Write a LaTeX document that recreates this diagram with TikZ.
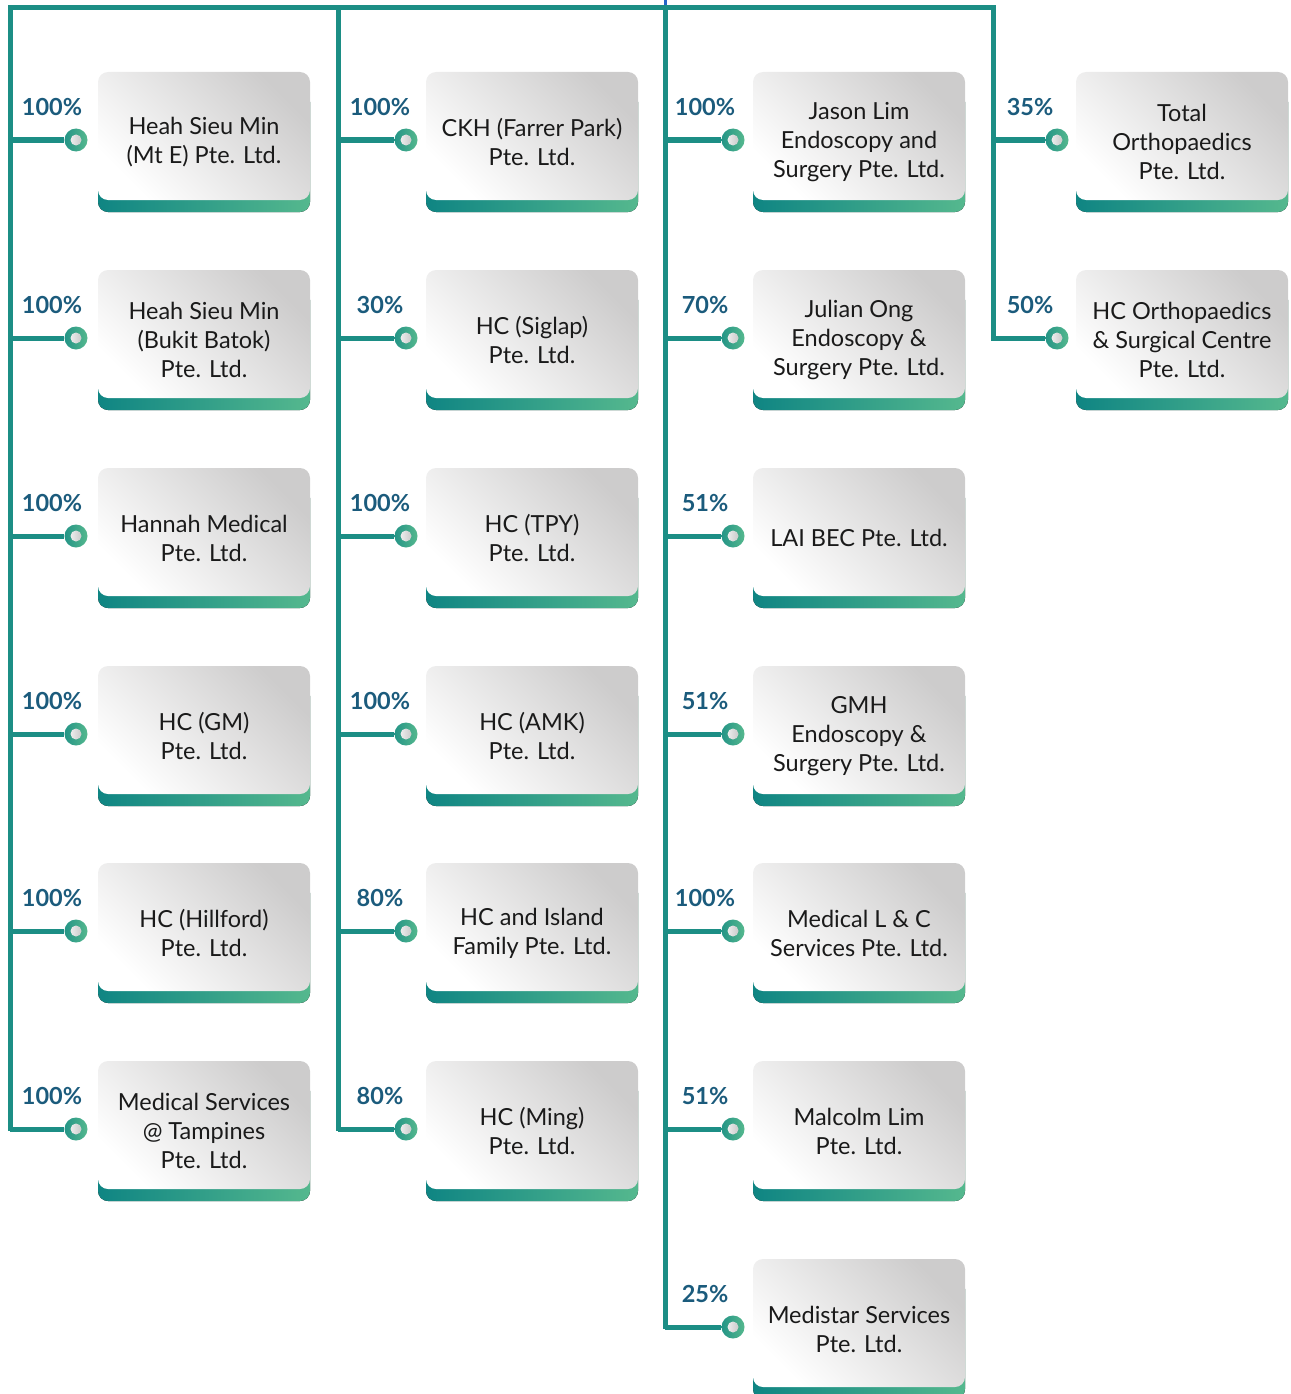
\documentclass[tikz,border=0pt]{standalone}
\usepackage{fontspec}
\setmainfont{Lato}
\usetikzlibrary{calc}
\definecolor{tealA}{HTML}{0F8583}
\definecolor{tealB}{HTML}{55B88E}
\definecolor{trunk}{HTML}{1C8E85}
\definecolor{pctcol}{HTML}{1B5B7C}
\definecolor{boxg}{HTML}{CDCCCC}
\definecolor{txtcol}{HTML}{1A1A1A}
\definecolor{rootblue}{HTML}{2466C8}
\tikzset{
  trunkline/.style={draw=trunk, line width=5pt, line join=miter},
  boxbody/.style={rounded corners=10pt, top color=boxg, bottom color=white, shading angle=-45},
  boxband/.style={rounded corners=10pt, left color=tealA, right color=tealB},
  boxtext/.style={align=center, text=txtcol, font=\fontsize{23.5}{29}\selectfont, inner sep=0pt},
  pctlabel/.style={text=pctcol, font=\bfseries\fontsize{23.5}{26}\selectfont, inner sep=0pt},
  dot/.style={circle, minimum size=23pt, inner sep=0pt, left color=tealA!70!tealB, right color=tealB,
    path picture={\shade[left color=white, right color=black!28] (path picture bounding box.center) circle (5.5pt);}},
}
% #1 name, #2 line x, #3 dot x, #4 label x, #5 box left, #6 box top, #7 percent, #8 text
\newcommand{\ent}[8]{%
  \fill[boxband] (#5,#6+20) rectangle (#5+212,#6+140);
  \shade[boxbody] (#5,#6) rectangle (#5+212,#6+128);
  \node[boxtext] (#1) at (#5+106,#6+70) {#8};
  \node[pctlabel] (#1p) at (#4,#6+35) {#7};
  \node[dot] (#1c) at (#3,#6+68) {};
  \coordinate (#1t) at (#2,#6+68);
  \draw[trunkline] (#1t) -- (#1c.west);
}
\begin{document}
\begin{tikzpicture}[x=1pt,y=-1pt]
\useasboundingbox (0,0) rectangle (1290,1394);
% trunk
\coordinate (topL) at (10,8);
\coordinate (root) at (665,8);
\coordinate (topR) at (993,8);
\coordinate (c2top) at (338,8);
\coordinate (rootin) at (665,0);
\draw[draw=rootblue, line width=3pt] (rootin) -- (665,5.5);
\draw[trunkline] (10,1130.5) -- (topL) -- (topR) -- (993,340.5);
\draw[trunkline] (c2top) -- (338,1130.5);
\draw[trunkline] (root) -- (665,1328.5);
% column 1
\ent{a1}{10}{76}{52}{98}{72}{100\%}{Heah Sieu Min\\(Mt E) Pte. Ltd.}
\ent{a2}{10}{76}{52}{98}{270}{100\%}{Heah Sieu Min\\(Bukit Batok)\\Pte. Ltd.}
\ent{a3}{10}{76}{52}{98}{468}{100\%}{Hannah Medical\\Pte. Ltd.}
\ent{a4}{10}{76}{52}{98}{666}{100\%}{HC (GM)\\Pte. Ltd.}
\ent{a5}{10}{76}{52}{98}{863}{100\%}{HC (Hillford)\\Pte. Ltd.}
\ent{a6}{10}{76}{52}{98}{1061}{100\%}{Medical Services\\@ Tampines\\Pte. Ltd.}
% column 2
\ent{b1}{338}{406}{380}{426}{72}{100\%}{CKH (Farrer Park)\\Pte. Ltd.}
\ent{b2}{338}{406}{380}{426}{270}{30\%}{HC (Siglap)\\Pte. Ltd.}
\ent{b3}{338}{406}{380}{426}{468}{100\%}{HC (TPY)\\Pte. Ltd.}
\ent{b4}{338}{406}{380}{426}{666}{100\%}{HC (AMK)\\Pte. Ltd.}
\ent{b5}{338}{406}{380}{426}{863}{80\%}{HC and Island\\Family Pte. Ltd.}
\ent{b6}{338}{406}{380}{426}{1061}{80\%}{HC (Ming)\\Pte. Ltd.}
% column 3
\ent{c1}{665}{733}{705}{753}{72}{100\%}{Jason Lim\\Endoscopy and\\Surgery Pte. Ltd.}
\ent{c2}{665}{733}{705}{753}{270}{70\%}{Julian Ong\\Endoscopy \&\\Surgery Pte. Ltd.}
\ent{c3}{665}{733}{705}{753}{468}{51\%}{LAI BEC Pte. Ltd.}
\ent{c4}{665}{733}{705}{753}{666}{51\%}{GMH\\Endoscopy \&\\Surgery Pte. Ltd.}
\ent{c5}{665}{733}{705}{753}{863}{100\%}{Medical L \& C\\Services Pte. Ltd.}
\ent{c6}{665}{733}{705}{753}{1061}{51\%}{Malcolm Lim\\Pte. Ltd.}
\ent{c7}{665}{733}{705}{753}{1259}{25\%}{Medistar Services\\Pte. Ltd.}
% column 4
\ent{d1}{993}{1057}{1030}{1076}{72}{35\%}{Total\\Orthopaedics\\Pte. Ltd.}
\ent{d2}{993}{1057}{1030}{1076}{270}{50\%}{HC Orthopaedics\\\& Surgical Centre\\Pte. Ltd.}
\end{tikzpicture}
\end{document}
